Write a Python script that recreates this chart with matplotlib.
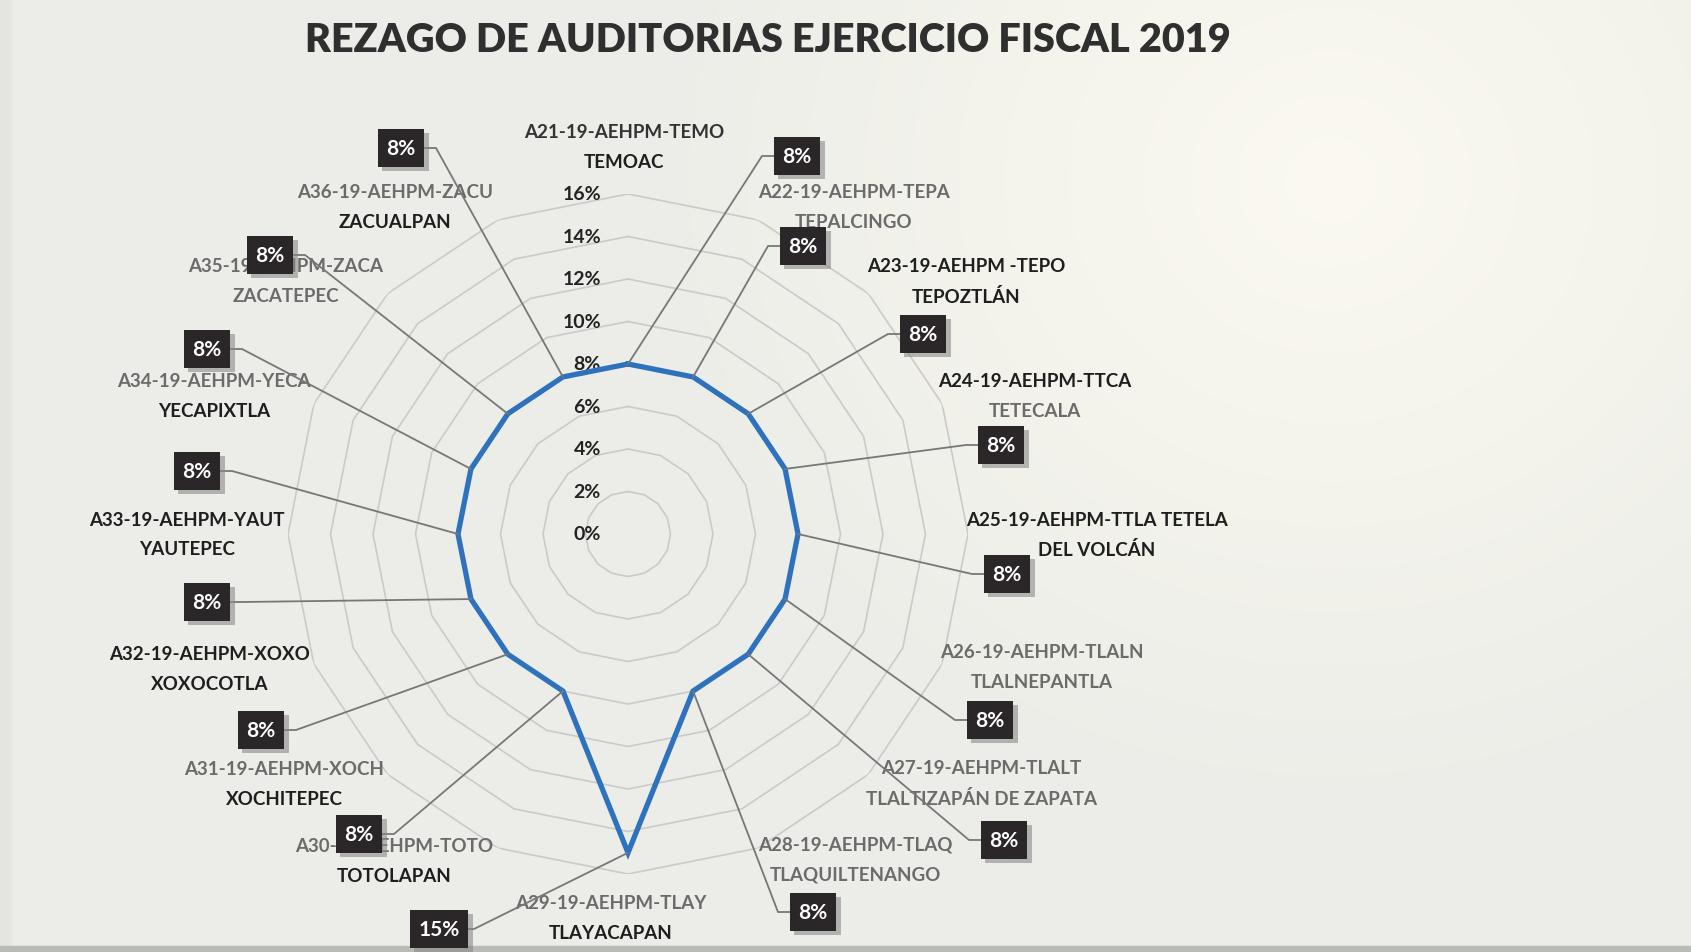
import numpy as np
import matplotlib
matplotlib.use('Agg')
import matplotlib.pyplot as plt
import matplotlib.patheffects as pe
from matplotlib.lines import Line2D
from matplotlib.transforms import offset_copy

plt.rcParams['font.family'] = ['Lato', 'DejaVu Sans']

# datos
codigos = ['A21-19-AEHPM-TEMO', 'A22-19-AEHPM-TEPA', 'A23-19-AEHPM -TEPO',
           'A24-19-AEHPM-TTCA', 'A25-19-AEHPM-TTLA TETELA', 'A26-19-AEHPM-TLALN',
           'A27-19-AEHPM-TLALT', 'A28-19-AEHPM-TLAQ', 'A29-19-AEHPM-TLAY',
           'A30-19-AEHPM-TOTO', 'A31-19-AEHPM-XOCH', 'A32-19-AEHPM-XOXO',
           'A33-19-AEHPM-YAUT', 'A34-19-AEHPM-YECA', 'A35-19-AEHPM-ZACA',
           'A36-19-AEHPM-ZACU']
municipios = ['TEMOAC', 'TEPALCINGO', 'TEPOZTLÁN', 'TETECALA', 'DEL VOLCÁN',
              'TLALNEPANTLA', 'TLALTIZAPÁN DE ZAPATA', 'TLAQUILTENANGO',
              'TLAYACAPAN', 'TOTOLAPAN', 'XOCHITEPEC', 'XOXOCOTLA', 'YAUTEPEC',
              'YECAPIXTLA', 'ZACATEPEC', 'ZACUALPAN']
rezago = [8, 8, 8, 8, 8, 8, 8, 8, 15, 8, 8, 8, 8, 8, 8, 8]
niveles = [0, 2, 4, 6, 8, 10, 12, 14, 16]

# posiciones (pixeles, origen arriba-izquierda)
pos_etiqueta = [(624, 133), (854, 192), (966, 267), (1035, 382), (1097, 520),
                (1042, 653), (981, 769), (855, 845), (611, 904), (394, 847),
                (284, 770), (210, 655), (187, 520), (214, 382), (286, 267),
                (395, 192)]
pos_caja = [(797, 157), (803, 247), (923, 335), (1001, 446), (1007, 575),
            (990, 721), (1004, 841), (813, 913), (439, 930), (359, 835),
            (261, 731), (207, 603), (197, 472), (207, 350), (270, 256),
            (401, 149)]
gris, negro = '#6b6b6b', '#1e1e1e'
col_etiqueta = [('#333333', negro), (gris, gris), (negro, negro), (negro, gris),
                (negro, negro), (gris, gris), (gris, gris), (gris, gris),
                (gris, negro), (gris, negro), (gris, negro), (negro, negro),
                (negro, negro), (gris, negro), (gris, gris), (gris, negro)]

W, H = 1691, 953
fig = plt.figure(figsize=(W / 100, H / 100), dpi=100, facecolor='#eeeee9')


def fp(x, y):
    return x / W, 1 - y / H


# fondo (hoja escaneada, zona mas clara arriba a la derecha)
bg = fig.add_axes([0, 0, 1, 1], zorder=-10)
gx, gy = np.meshgrid(np.arange(0, W, 4), np.arange(0, H, 4))
d = np.sqrt(((gx - 1330) / 700.0) ** 2 + ((gy - 180) / 650.0) ** 2)
k = np.clip(1 - d, 0, 1)[..., None]
base = np.array([236, 237, 232]) / 255.0
luz = np.array([251, 249, 240]) / 255.0
img = base * (1 - k) + luz * k
img[:, :3] = img[:, :3] * 0.97
bg.imshow(img, aspect='auto', extent=[0, W, H, 0], interpolation='bilinear')
bg.axhspan(H - 6, H, color='#b9bbb6')
bg.set_xlim(0, W)
bg.set_ylim(H, 0)
bg.axis('off')

cx, cy, R = 628, 535, 340
ax = fig.add_axes([(cx - R) / W, 1 - (cy + R) / H, 2 * R / W, 2 * R / H],
                  projection='polar')
ax.set_theta_offset(np.pi / 2)
ax.set_theta_direction(-1)
ax.set_ylim(0, 16)
ax.set_facecolor('none')
ax.grid(False)
ax.spines['polar'].set_visible(False)
ax.set_xticks([])
ax.set_yticks([])

n = len(rezago)
ang = np.linspace(0, 2 * np.pi, n, endpoint=False)
ang_c = np.append(ang, ang[0])

for lv in niveles[1:]:
    ax.plot(ang_c, [lv] * (n + 1), color='#cacac8', lw=1.2, zorder=1)

tr = offset_copy(ax.transData, fig=fig, x=-27, y=0, units='dots')
for lv in niveles:
    ax.text(0, lv, f'{lv}%', transform=tr, ha='right', va='center',
            fontsize=14, fontweight='bold', color='#222222', zorder=2)

vals = np.append(rezago, rezago[0])
ax.plot(ang_c, vals, color='#2e72bd', lw=3.8, zorder=5, solid_joinstyle='miter')

# etiquetas de categoria
for i in range(n):
    x, y = pos_etiqueta[i]
    c1, c2 = col_etiqueta[i]
    fig.text(*fp(x, y), codigos[i], ha='center', va='center', fontsize=13.5,
             fontweight='bold', color=c1)
    fig.text(*fp(x, y + 30), municipios[i], ha='center', va='center',
             fontsize=13.5, fontweight='bold', color=c2)

# etiquetas de datos con lineas guia
inv = fig.transFigure.inverted()
hw = 23
for i in range(n):
    bx, by = pos_caja[i]
    px, py = inv.transform(ax.transData.transform((ang[i], rezago[i])))
    if px * W > bx:
        ex, sx = bx + hw, bx + hw + 12
    else:
        ex, sx = bx - hw, bx - hw - 12
    xs = [px, sx / W, ex / W]
    ys = [py, 1 - by / H, 1 - by / H]
    fig.add_artist(Line2D(xs, ys, transform=fig.transFigure, color='#777777',
                          lw=1.3, zorder=6))
    t = fig.text(*fp(bx, by), f'{rezago[i]}%', ha='center', va='center',
                 fontsize=15, fontweight='bold', color='white', zorder=8,
                 bbox=dict(boxstyle='square,pad=0.42', fc='#2b2627', ec='none'))
    t.get_bbox_patch().set_path_effects([
        pe.SimplePatchShadow(offset=(3, -3), shadow_rgbFace='#8a8a8a', alpha=0.6),
        pe.Normal()])

fig.text(*fp(768, 40), 'REZAGO DE AUDITORIAS EJERCICIO FISCAL 2019',
         ha='center', va='center', fontsize=28.5, fontweight='heavy',
         color='#2f2f2f')

fig.savefig('out.png', dpi=100, facecolor=fig.get_facecolor())
